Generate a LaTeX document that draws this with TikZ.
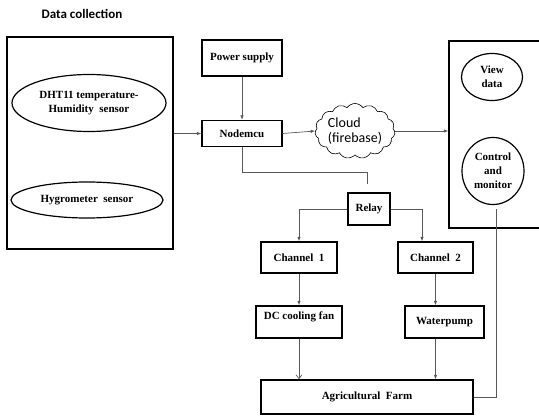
\documentclass[tikz,border=0pt]{standalone}
\usepackage{fontspec}
\setmainfont{Liberation Serif}
\newfontfamily\calfont{Carlito}
\usetikzlibrary{arrows.meta,shapes.geometric,shapes.symbols}

\begin{document}
\begin{tikzpicture}[x=1pt,y=-1pt,
  box/.style={draw,line width=1.4pt,inner sep=0pt,font=\bfseries\fontsize{11}{14}\selectfont},
  oval/.style={draw,ellipse,line width=1.2pt,inner sep=0pt,align=center,font=\bfseries\fontsize{11}{14}\selectfont},
  line/.style={draw=black!65,line width=0.7pt},
  arr/.style={line,-{Latex[length=4.5pt,width=3.5pt]}}]
\useasboundingbox (0,0) rectangle (539,417);
\clip (0,0) rectangle (539,417);
\node (t0) at (82,14) {\calfont\bfseries\fontsize{13}{15}\selectfont Data collection};
\node[box,minimum width=166,minimum height=212] (s0) at (90,143) {};
\node[oval,minimum width=154,minimum height=57] (s1) at (89,103) {DHT11 temperature-\\Humidity\ \ sensor};
\node[oval,minimum width=152,minimum height=36] (s2) at (87,200) {Hygrometer\ \ sensor};
\node[box,minimum width=80,minimum height=36] (ps) at (242,58) {Power supply};
\node[box,minimum width=80,minimum height=26] (mcu) at (242,133.5) {Nodemcu};
\node[draw,cloud,cloud puffs=15,cloud puff arc=110,aspect=1.6,line width=0.6pt,inner sep=0pt,minimum width=80,minimum height=52,align=left,font=\calfont\fontsize{14}{15}\selectfont] (cl) at (355,131) {Cloud\\(firebase)};
\node[box,minimum width=98,minimum height=187] (r0) at (498,134.5) {};
\node[oval,minimum width=61,minimum height=47] (r1) at (492,77) {View\\data};
\node[oval,minimum width=62,minimum height=67] (r2) at (493,171) {Control\\and\\monitor};
\node[box,minimum width=42,minimum height=32] (rl) at (369,209) {Relay};
\node[box,minimum width=76,minimum height=31] (c1) at (299,257.5) {Channel\ \ 1};
\node[box,minimum width=75,minimum height=31] (c2) at (435.5,257.5) {Channel\ \ 2};
\node[box,minimum width=86,minimum height=32] (fan) at (299,322) {\raisebox{5pt}[6.8pt][2.3pt]{DC cooling fan}};
\node[box,minimum width=79,minimum height=32] (wp) at (444.5,322) {Waterpump};
\node[box,minimum width=212,minimum height=34] (fm) at (367,397) {Agricultural\ \ Farm};
\coordinate (j0) at (367,172);
\draw[arr] (s0.east |- mcu.west) -- (mcu.west);
\draw[arr] (ps.south) -- (mcu.north);
\draw[arr] (mcu.east) -- (cl.west);
\draw[arr] (cl.east) -- (cl.east -| r0.west);
\draw[line,shorten >=8pt] (mcu.south) |- (j0) -- (j0 |- rl.north);
\draw[arr] (rl.west) -| (c1.north);
\draw[arr] (rl.east) -| ([xshift=-13.5pt]c2.north);
\draw[arr] (c1.south) -- (fan.north);
\draw[arr] (c2.south) -- (c2.south |- wp.north);
\draw[line,-{Straight Barb[length=4pt,width=6pt]}] (fan.south) -- (fan.south |- fm.north);
\draw[arr] (wp.south -| c2.south) -- (c2.south |- fm.north);
\draw[line,shorten <=4pt] ([xshift=3pt]r2.south) |- (fm.east);
\end{tikzpicture}
\end{document}
